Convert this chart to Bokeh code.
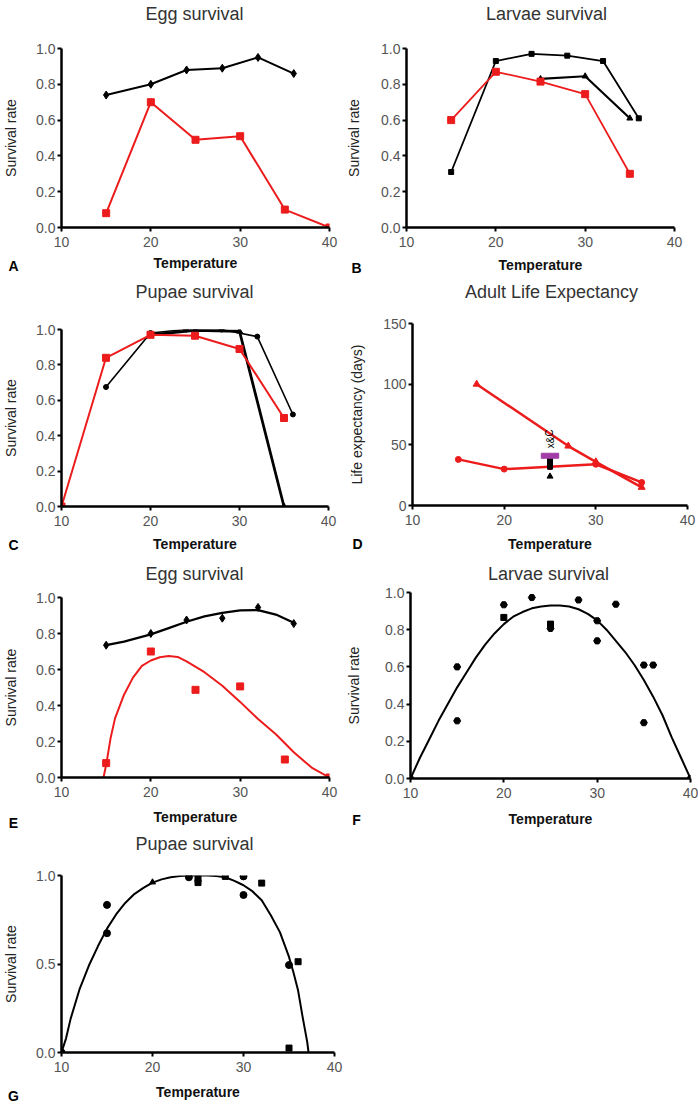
from bokeh.plotting import figure
from bokeh.layouts import column, row
from bokeh.models import Range1d, FixedTicker, PrintfTickFormatter, Label
from bokeh.embed import file_html
from bokeh.resources import INLINE
from bokeh.core.properties import value

# ---------------- data ----------------
# A: Egg survival
A_black_x = [15, 20, 24, 28, 32, 36]
A_black_y = [0.74, 0.80, 0.88, 0.89, 0.95, 0.86]
A_red_x = [15, 20, 25, 30, 35, 40]
A_red_y = [0.08, 0.70, 0.49, 0.51, 0.10, 0.0]

# B: Larvae survival
B_black1_x = [15, 20, 24, 28, 32, 36]
B_black1_y = [0.31, 0.93, 0.97, 0.96, 0.93, 0.61]
B_black2_x = [25, 30, 35]
B_black2_y = [0.83, 0.845, 0.61]
B_red_x = [15, 20, 25, 30, 35]
B_red_y = [0.60, 0.87, 0.815, 0.745, 0.30]

# C: Pupae survival
C_red_x = [10, 15, 20, 25, 30, 35]
C_red_y = [0.0, 0.84, 0.97, 0.965, 0.89, 0.50]
C_black1_x = [15, 20, 24, 28, 32, 36]
C_black1_y = [0.675, 0.98, 1.0, 1.0, 0.96, 0.52]
C_black2_x = [20, 25, 30, 35]
C_black2_y = [0.97, 0.995, 0.99, 0.0]

# D: Adult life expectancy
D_red1_x = [17, 27, 30, 35]
D_red1_y = [100, 49, 36, 15]
D_red2_x = [15, 20, 25, 30, 35]
D_red2_y = [38, 30, 32, 34, 19]
D_black_x = [25, 25, 25]
D_black_y = [38, 35, 32]
D_tri_x = [25]
D_tri_y = [24]
D_bar_x = [25]
D_bar_y = [41]
D_note = ["x&C"]
D_note_x = [25]
D_note_y = [55]

# E: Egg survival (fitted)
E_black_x = [15, 20, 24, 28, 32, 36]
E_black_y = [0.735, 0.80, 0.875, 0.885, 0.945, 0.855]
E_bfit_x = [15, 17, 20, 22, 24, 26, 28, 30, 32, 34, 36]
E_bfit_y = [0.735, 0.755, 0.795, 0.83, 0.865, 0.895, 0.915, 0.928, 0.93, 0.905, 0.86]
E_red_x = [15, 20, 25, 30, 35, 40]
E_red_y = [0.08, 0.70, 0.487, 0.506, 0.10, 0.0]
E_rfit_x = [14.7, 15, 15.5, 16, 17, 18, 19, 20, 21, 22, 23, 24, 26, 28, 30, 32, 34, 36, 38, 40]
E_rfit_y = [0.0, 0.07, 0.22, 0.33, 0.46, 0.555, 0.62, 0.65, 0.668, 0.675, 0.67, 0.645,
            0.585, 0.51, 0.42, 0.325, 0.24, 0.14, 0.055, 0.0]

# F: Larvae survival (fitted)
F_circ_x = [10, 15, 15, 20, 23, 25, 28, 30, 30, 32, 35, 35, 36, 40]
F_circ_y = [0.0, 0.60, 0.31, 0.934, 0.973, 0.807, 0.96, 0.848, 0.74, 0.937, 0.61, 0.30, 0.61, 0.0]
F_sq_x = [20, 25]
F_sq_y = [0.866, 0.83]
F_fit_x = [10, 11, 12, 13, 14, 15, 16, 17, 18, 19, 20, 21, 22, 23, 24, 25, 26, 27, 28, 29,
           30, 31, 32, 33, 34, 35, 36, 37, 38, 39, 40]
F_fit_y = [0.0, 0.11, 0.21, 0.31, 0.40, 0.49, 0.57, 0.65, 0.72, 0.78, 0.83, 0.87, 0.895,
           0.915, 0.925, 0.93, 0.93, 0.925, 0.91, 0.885, 0.85, 0.80, 0.74, 0.68, 0.61, 0.53,
           0.44, 0.34, 0.22, 0.11, 0.0]

# G: Pupae survival (fitted)
G_circ_x = [10, 15, 15, 24, 30, 30, 35]
G_circ_y = [0.0, 0.834, 0.674, 0.99, 0.995, 0.89, 0.494]
G_sq_x = [25, 25, 28, 32, 36, 35]
G_sq_y = [0.98, 0.96, 0.995, 0.957, 0.513, 0.025]
G_tri_x = [20]
G_tri_y = [0.962]
G_fit_x = [10, 10.5, 11, 12, 13, 14, 15, 16, 17, 18, 19, 20, 21, 22, 23, 24, 25, 26, 27, 28,
           29, 30, 31, 32, 33, 34, 35, 35.5, 36, 36.5, 37, 37.15]
G_fit_y = [0.0, 0.08, 0.19, 0.36, 0.49, 0.60, 0.70, 0.78, 0.845, 0.895, 0.93, 0.96, 0.978,
           0.99, 0.997, 1.0, 1.0, 1.0, 0.997, 0.99, 0.97, 0.945, 0.91, 0.86, 0.775, 0.68,
           0.54, 0.45, 0.35, 0.2, 0.06, 0.0]

x_ticks = [10, 20, 30, 40]
surv_ticks = [0.0, 0.2, 0.4, 0.6, 0.8, 1.0]
surv_ticks_G = [0.0, 0.5, 1.0]
life_ticks = [0, 50, 100, 150]

# --------------- styling ---------------
FONT = "Liberation Sans"
RED = "#ec1c1c"
MAG = "#a23ca6"


def panel(fig_l, fig_t, fig_w, fig_h, fl, fr, ft, fb, ymax, yticks, yfmt, ylabel,
          title, title_xy, letter, letter_xy, ystand, xstand):
    p = figure(output_backend="svg", toolbar_location=None, title=None,
               frame_width=fr - fl, frame_height=fb - ft,
               min_border_left=fl - fig_l, min_border_right=fig_l + fig_w - fr,
               min_border_top=ft - fig_t, min_border_bottom=fig_t + fig_h - fb,
               x_range=Range1d(10, 40), y_range=Range1d(0, ymax))
    p.outline_line_color = None
    p.grid.visible = False
    p.background_fill_color = "white"
    p.border_fill_color = "white"
    for ax in (p.xaxis[0], p.yaxis[0]):
        ax.axis_line_width = 2.5
        ax.axis_line_color = "black"
        ax.major_tick_line_width = 2
        ax.major_tick_line_color = "black"
        ax.major_tick_out = 4
        ax.major_tick_in = 0
        ax.minor_tick_line_color = None
        ax.major_label_standoff = 2
        ax.major_label_text_font = FONT
        ax.major_label_text_font_size = "14px"
        ax.major_label_text_color = "#555555"
        ax.axis_label_text_font = FONT
    p.xaxis.major_label_standoff = 5
    p.xaxis.ticker = FixedTicker(ticks=x_ticks)
    p.xaxis.formatter = PrintfTickFormatter(format="%d")
    p.xaxis.axis_label = "Temperature"
    p.xaxis.axis_label_text_font_style = "bold"
    p.xaxis.axis_label_text_font_size = "14px"
    p.xaxis.axis_label_text_color = "#111111"
    p.xaxis.axis_label_standoff = int(xstand)
    p.yaxis.ticker = FixedTicker(ticks=yticks)
    p.yaxis.formatter = PrintfTickFormatter(format=yfmt)
    p.yaxis.axis_label = ylabel
    p.yaxis.axis_label_text_font_style = "normal"
    p.yaxis.axis_label_text_font_size = "14px"
    p.yaxis.axis_label_text_color = "#222222"
    p.yaxis.axis_label_standoff = int(ystand)
    # title sits in the panel above the frame (screen units relative to that panel)
    p.add_layout(Label(x=title_xy[0] - fl, y=ft - title_xy[1], x_units="screen",
                       y_units="screen", text=title, text_align="center",
                       text_baseline="middle", text_font=FONT, text_font_size="18px",
                       text_color="#333333"), "above")
    # panel letter sits in the panel right of the frame
    p.add_layout(Label(x=letter_xy[0] - fr, y=fb - letter_xy[1], x_units="screen",
                       y_units="screen", text=letter, text_align="center",
                       text_baseline="middle", text_font=FONT, text_font_size="14px",
                       text_font_style="bold", text_color="black"), "right")
    return p


# Row 1  (y 0 -> 276)
pA = panel(0, 0, 342, 276, 60, 328, 48, 227, 1.0, surv_ticks, "%.1f", "Survival rate",
           "Egg survival", (193, 13), "A", (12, 265), 14, 5)
pA.line(A_black_x, A_black_y, line_color="black", line_width=2)
pA.scatter(A_black_x, A_black_y, marker="diamond", size=8, color="black")
pA.line(A_red_x, A_red_y, line_color=RED, line_width=2)
pA.scatter(A_red_x, A_red_y, marker="square", size=7, color=RED)

pB = panel(342, 0, 356, 276, 404, 672, 48, 227, 1.0, surv_ticks, "%.1f", "Survival rate",
           "Larvae survival", (544, 13), "B", (354, 267), 16, 7)
pB.line(B_black1_x, B_black1_y, line_color="black", line_width=1.8)
pB.scatter(B_black1_x, B_black1_y, marker="square", size=5, color="black")
pB.line(B_black2_x, B_black2_y, line_color="black", line_width=2.2)
pB.scatter(B_black2_x, B_black2_y, marker="triangle", size=6, color="black")
pB.line(B_red_x, B_red_y, line_color=RED, line_width=1.8)
pB.scatter(B_red_x, B_red_y, marker="square", size=7, color=RED)

# Row 2  (y 276 -> 554)
pC = panel(0, 276, 345, 278, 60, 327, 329, 506, 1.0, surv_ticks, "%.1f", "Survival rate",
           "Pupae survival", (193, 291), "C", (12, 544), 14, 7)
pC.line(C_black1_x, C_black1_y, line_color="black", line_width=1.6)
pC.scatter(C_black1_x, C_black1_y, marker="circle", size=5, color="black")
pC.line(C_black2_x, C_black2_y, line_color="black", line_width=2.8)
pC.scatter(C_black2_x, C_black2_y, marker="triangle", size=6, color="black")
pC.line(C_red_x, C_red_y, line_color=RED, line_width=2)
pC.scatter(C_red_x, C_red_y, marker="square", size=7, color=RED)

pD = panel(345, 276, 353, 278, 409, 684, 323, 505, 150, life_ticks, "%d",
           "Life expectancy (days)", "Adult Life Expectancy", (548, 291), "D", (354, 543), 15, 8)
pD.line(D_red1_x, D_red1_y, line_color=RED, line_width=2.5)
pD.scatter(D_red1_x, D_red1_y, marker="triangle", size=7, color=RED)
pD.line(D_red2_x, D_red2_y, line_color=RED, line_width=2.5)
pD.scatter(D_red2_x, D_red2_y, marker="circle", size=6, color=RED)
pD.scatter(D_black_x, D_black_y, marker="square", size=5, color="black")
pD.scatter(D_tri_x, D_tri_y, marker="triangle", size=6, color="black")
pD.rect(D_bar_x, D_bar_y, width=1.9, height=5, height_units="screen", color=MAG)
pD.text(D_note_x, D_note_y, text=D_note, angle=1.5708, text_font=value(FONT),
        text_font_size="10px", text_align="center", text_baseline="middle", text_color="black")

# Row 3  (y 554 -> 831)
pE = panel(0, 554, 342, 277, 60, 328, 597, 777, 1.0, surv_ticks, "%.1f", "Survival rate",
           "Egg survival", (193, 573), "E", (12, 822), 14, 9)
pE.line(E_bfit_x, E_bfit_y, line_color="black", line_width=2.2)
pE.scatter(E_black_x, E_black_y, marker="diamond", size=8, color="black")
pE.line(E_rfit_x, E_rfit_y, line_color=RED, line_width=2)
pE.scatter(E_red_x, E_red_y, marker="square", size=7, color=RED)

pF = panel(342, 554, 356, 277, 408, 688, 592, 778, 1.0, surv_ticks, "%.1f", "Survival rate",
           "Larvae survival", (546, 573), "F", (354, 819), 20, 10)
pF.line(F_fit_x, F_fit_y, line_color="black", line_width=2)
pF.scatter(F_circ_x, F_circ_y, marker="hex", size=7, color="black")
pF.scatter(F_sq_x, F_sq_y, marker="square", size=6, color="black")

# Row 4  (y 831 -> 1104)
pG = panel(0, 831, 349, 273, 60, 333, 875, 1052, 1.0, surv_ticks_G, "%.1f", "Survival rate",
           "Pupae survival", (193, 843), "G", (12, 1095), 14, 9)
pG.line(G_fit_x, G_fit_y, line_color="black", line_width=2)
pG.scatter(G_circ_x, G_circ_y, marker="circle", size=7, color="black")
pG.scatter(G_sq_x, G_sq_y, marker="square", size=6, color="black")
pG.scatter(G_tri_x, G_tri_y, marker="triangle", size=6, color="black")

# each figure in its own column so that frames are not aligned across a row
layout = column(row(column(pA), column(pB)),
                row(column(pC), column(pD)),
                row(column(pE), column(pF)),
                row(column(pG)))
open("out.html", "w").write(file_html(layout, INLINE))
